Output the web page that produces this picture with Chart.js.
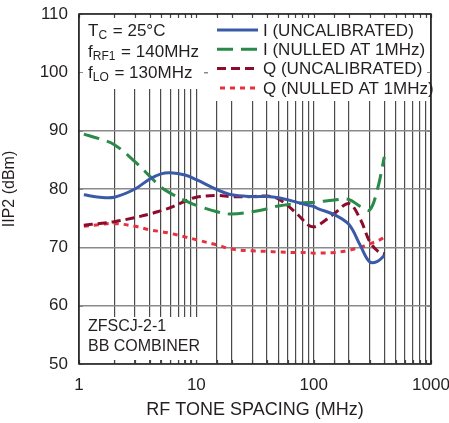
<!DOCTYPE html>
<html>
<head>
<meta charset="utf-8">
<script src="https://cdn.jsdelivr.net/npm/chart.js@4.4.1/dist/chart.umd.min.js"></script>
<style>
  html, body { margin: 0; padding: 0; background: #fff; }
  #wrap { width: 449px; height: 423px; }
</style>
</head>
<body>
<div id="wrap"><canvas id="iip2Chart" width="449" height="423"></canvas></div>
<script>
const FONT = "'Liberation Sans', Arial, sans-serif";

// RF tone spacing (MHz)
const freqs = [1.1, 1.5, 2, 3, 4, 5, 6, 8, 10, 15, 20, 30, 40, 50, 70, 90, 100, 110, 150, 200, 250, 300, 350, 400];

// IIP2 (dBm)
const iUncal = [79.0, 78.6, 78.6, 80.0, 81.7, 82.6, 82.8, 82.4, 81.6, 79.9, 79.0, 78.7, 78.7, 78.5, 77.8, 77.2, 77.0, 76.6, 75.6, 73.9, 70.3, 67.5, 67.6, 68.6];
const iNulled = [89.4, 88.6, 87.6, 84.7, 82.2, 80.3, 79.3, 78.0, 77.2, 76.1, 75.7, 76.1, 76.6, 77.1, 77.5, 77.7, 77.7, 77.8, 78.1, 78.2, 77.0, 76.4, 80.0, 85.5];
const qUncal = [73.8, 74.1, 74.4, 75.1, 75.7, 76.3, 76.8, 77.9, 78.6, 78.9, 78.7, 78.7, 78.8, 78.3, 76.0, 73.8, 73.5, 73.8, 75.8, 77.5, 74.8, 71.0, 69.4, 68.9];
const qNulled = [73.6, 73.9, 74.1, 73.6, 73.0, 72.7, 72.4, 71.8, 71.3, 70.4, 69.7, 69.4, 69.3, 69.2, 69.1, 69.1, 69.0, 69.0, 69.1, 69.5, 70.0, 70.6, 71.1, 71.7];

const seriesLabels = ['I (UNCALIBRATED)', 'I (NULLED AT 1MHz)', 'Q (UNCALIBRATED)', 'Q (NULLED AT 1MHz)'];
const seriesColors = ['#3a5aa8', '#2a8a48', '#8c0c2c', '#e63240'];
const seriesDash = [[], [16, 8], [9, 5], [5, 5]];
const seriesValues = [iUncal, iNulled, qUncal, qNulled];

const toPoints = vals => freqs.map((f, i) => ({ x: f, y: vals[i] }));

// white boxes behind the notes + legend, then small edge ticks
const notesPlugin = {
    id: 'notes',
    beforeDatasetsDraw(chart) {
        const { ctx, chartArea: a, scales } = chart;
        const xs = scales.x, ys = scales.y;
        ctx.save();
        ctx.fillStyle = '#fff';
        ctx.fillRect(a.left + 1, a.top + 1, 203 - a.left, 88 - a.top);
        ctx.fillRect(208, a.top + 1, a.right - 209, 100 - a.top);
        ctx.fillRect(a.left + 1, 317, 203 - a.left, a.bottom - 4 - 317);

        ctx.strokeStyle = '#444';
        ctx.lineWidth = 1.2;
        xs.ticks.forEach(t => {
            const px = Math.round(xs.getPixelForValue(t.value)) + 0.5;
            ctx.beginPath();
            ctx.moveTo(px, a.top); ctx.lineTo(px, a.top + 4);
            ctx.moveTo(px, a.bottom - 4); ctx.lineTo(px, a.bottom);
            ctx.stroke();
        });
        ctx.strokeStyle = '#888';
        ys.ticks.forEach(t => {
            const py = Math.round(ys.getPixelForValue(t.value)) + 0.5;
            ctx.beginPath();
            ctx.moveTo(a.left, py); ctx.lineTo(a.left + 4, py);
            ctx.moveTo(a.right - 4, py); ctx.lineTo(a.right, py);
            ctx.stroke();
        });
        ctx.restore();
    },
    afterDraw(chart) {
        const { ctx, chartArea: a } = chart;
        ctx.save();
        // border
        ctx.strokeStyle = '#222';
        ctx.lineWidth = 1.5;
        ctx.strokeRect(a.left, a.top, a.right - a.left, a.bottom - a.top);

        ctx.fillStyle = '#231f20';
        ctx.textBaseline = 'middle';
        ctx.textAlign = 'left';

        // condition notes with subscripts
        const note = (x, y, main, sub, rest) => {
            ctx.font = '17px ' + FONT;
            ctx.fillText(main, x, y);
            let w = ctx.measureText(main).width;
            ctx.font = '12px ' + FONT;
            ctx.fillText(sub, x + w, y + 5);
            w += ctx.measureText(sub).width;
            ctx.font = '17px ' + FONT;
            ctx.fillText(rest, x + w + 1, y);
        };
        note(88, 31, 'T', 'C', ' = 25°C');
        note(88, 52, 'f', 'RF1', ' = 140MHz');
        note(88, 73, 'f', 'LO', ' = 130MHz');

        ctx.font = '16px ' + FONT;
        ctx.fillText('ZFSCJ-2-1', 88, 327);
        ctx.fillText('BB COMBINER', 88, 347);

        // legend
        ctx.font = '17px ' + FONT;
        const rowsY = [30, 49.3, 68.6, 87.9];
        seriesLabels.forEach((lab, i) => {
            ctx.strokeStyle = seriesColors[i];
            ctx.lineWidth = 3;
            ctx.setLineDash(seriesDash[i]);
            ctx.beginPath();
            ctx.moveTo(i === 3 ? 220 : 217, rowsY[i]);
            ctx.lineTo(258, rowsY[i]);
            ctx.stroke();
            ctx.setLineDash([]);
            ctx.fillText(lab, 263, rowsY[i] + 1);
        });
        ctx.restore();
    }
};

document.addEventListener('DOMContentLoaded', () => {
    const ctx = document.getElementById('iip2Chart').getContext('2d');

    const datasets = seriesValues.map((vals, i) => ({
        label: seriesLabels[i],
        data: toPoints(vals),
        borderColor: seriesColors[i],
        borderWidth: 3,
        borderDash: seriesDash[i],
        borderCapStyle: 'butt',
        pointRadius: 0,
        tension: 0.35,
        fill: false
    }));

    new Chart(ctx, {
        type: 'line',
        data: { datasets },
        options: {
            responsive: false,
            animation: false,
            events: [],
            layout: { padding: { top: 14, right: 18, left: 0, bottom: 0 } },
            plugins: {
                legend: { display: false },
                tooltip: { enabled: false }
            },
            scales: {
                x: {
                    type: 'logarithmic',
                    min: 1,
                    max: 1000,
                    afterFit: s => {
                        s.height = 59;
                        s.paddingLeft = 0; s.paddingRight = 0;
                    },
                    border: { display: false },
                    grid: { color: '#4a4a4a', lineWidth: 1.2, drawTicks: false },
                    ticks: {
                        autoSkip: false,
                        maxRotation: 0,
                        padding: 11,
                        color: '#231f20',
                        font: { family: FONT, size: 17 },
                        callback: v => ([1, 10, 100, 1000].includes(v) ? String(v) : '')
                    },
                    title: {
                        display: true,
                        text: 'RF TONE SPACING (MHz)',
                        color: '#231f20',
                        font: { family: FONT, size: 18 },
                        padding: { top: 0, bottom: 2 }
                    }
                },
                y: {
                    min: 50,
                    max: 110,
                    afterFit: s => {
                        s.width = 79;
                        s.paddingTop = 0; s.paddingBottom = 0;
                    },
                    border: { display: false },
                    grid: { color: '#8a8a8a', lineWidth: 1.5, drawTicks: false },
                    ticks: {
                        stepSize: 10,
                        padding: 11,
                        color: '#231f20',
                        font: { family: FONT, size: 17 }
                    },
                    title: {
                        display: true,
                        text: 'IIP2 (dBm)',
                        color: '#231f20',
                        font: { family: FONT, size: 16 },
                        padding: { top: 0, bottom: 4 }
                    }
                }
            }
        },
        plugins: [notesPlugin]
    });
});
</script>
</body>
</html>
